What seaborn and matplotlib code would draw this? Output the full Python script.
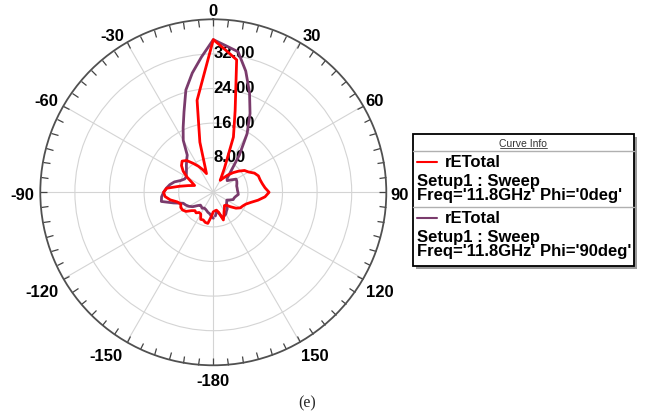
import numpy as np
import pandas as pd
import matplotlib
matplotlib.use("Agg")
import matplotlib.pyplot as plt
from matplotlib.patches import Rectangle
from matplotlib.lines import Line2D
import seaborn as sns

# theta samples (deg), 5 deg step, -180 .. 175
theta_deg = list(range(-180, 180, 5))

# rETotal, Phi = 0deg (red)
r_phi0 = [4.5, 5.7, 7.3, 7.2, 6.8, 6.9, 5.8, 5.7, 6.2, 6.0,
          6.6, 7.7, 8.2, 8.3, 8.0, 8.6, 10.1, 11.2, 11.5, 10.8,
          8.0, 6.0, 4.6, 5.5, 7.0, 8.5, 9.6, 10.2, 9.6, 8.2,
          7.0, 5.8, 4.6, 12.0, 21.6, 26.7, 35.3, 33.0, 31.1, 19.5,
          13.6, 6.0, 3.2, 4.0, 5.2, 6.4, 7.6, 8.8, 9.4, 10.5,
          11.1, 11.2, 11.5, 12.0, 12.9, 12.0, 10.5, 9.0, 8.0, 7.5,
          7.2, 6.4, 5.2, 4.2, 4.0, 4.5, 5.0, 5.8, 6.8, 4.8,
          4.2, 4.3]

# rETotal, Phi = 90deg (purple)
r_phi90 = [6.0, 5.5, 5.0, 4.8, 4.5, 4.3, 4.2, 4.5, 4.3, 4.2,
           4.8, 5.8, 6.5, 7.0, 7.4, 9.5, 12.2, 12.0, 11.5, 10.9,
           10.2, 9.3, 8.0, 7.3, 7.2, 7.6, 8.1, 8.8, 9.6, 10.5,
           13.9, 16.5, 19.8, 24.5, 28.0, 31.4, 35.3, 34.0, 33.0, 29.0,
           24.5, 20.1, 15.6, 10.5, 6.3, 4.5, 4.2, 5.0, 6.1, 6.0,
           5.8, 5.6, 5.6, 5.6, 5.7, 5.8, 5.3, 5.0, 4.9, 4.2,
           3.6, 3.8, 4.0, 4.5, 5.0, 5.3, 5.8, 6.0, 6.3, 5.0,
           4.5, 5.5]

angle_ticks = [0, 30, 60, 90, 120, 150, 180, 210, 240, 270, 300, 330]
angle_labels = ["0", "30", "60", "90", "120", "150", "-180", "-150", "-120", "-90", "-60", "-30"]
r_ticks = [8, 16, 24, 32]
r_labels = ["8.00", "16.00", "24.00", "32.00"]

# where the angle labels sit (pixels from the top-left corner)
label_xy = [(213.3, 11), (311.7, 36.7), (375, 101), (400, 196), (380, 292.7), (315, 356.7),
            (212.7, 381), (106, 356.7), (41.7, 292.7), (22.7, 196), (46.7, 101), (112.7, 36.7)]

sns.set_theme(style="white")
plt.rcParams["font.family"] = ["Liberation Sans", "DejaVu Sans"]
bold = dict(fontsize=12, fontweight="bold", color="black")

W, H = 646, 419
fig = plt.figure(figsize=(W / 100, H / 100), dpi=100)
cx, cy, R = 213.3, 192.3, 173
ax = fig.add_axes([(cx - R) / W, (H - cy - R) / H, 2 * R / W, 2 * R / H], projection="polar")
ax.set_theta_zero_location("N")
ax.set_theta_direction(-1)
ax.set_ylim(0, 40)

ax.set_thetagrids(angle_ticks, [""] * len(angle_ticks))
ax.set_xticks(np.deg2rad(np.arange(0, 360, 5)), minor=True)
ax.tick_params(axis="x", which="both", bottom=False, top=True, direction="in",
               length=5, width=0.9, color="#444444")
ax.set_rgrids(r_ticks, [""] * len(r_ticks))
ax.grid(True, color="#d4d4d4", linewidth=0.8)
ax.spines["polar"].set_color("#505050")
ax.spines["polar"].set_linewidth(1.3)

for r, lab in zip(r_ticks, r_labels):
    ax.text(0, r, lab, ha="left", va="center", zorder=1, **bold)

curves = [("Phi='0deg'", r_phi0, "#ff0000"), ("Phi='90deg'", r_phi90, "#7a3b6c")]
for name, rv, col in curves[::-1]:
    df = pd.DataFrame({"theta": np.deg2rad(theta_deg + [theta_deg[0]]),
                       "r": rv + [rv[0]]})
    sns.lineplot(data=df, x="theta", y="r", sort=False, color=col, linewidth=2.0,
                 ax=ax, zorder=3)
ax.set_xlabel("")
ax.set_ylabel("")


def fx(x):
    return x / W


def fy(y):
    return 1 - y / H


for lab, (lx, ly) in zip(angle_labels, label_xy):
    fig.text(fx(lx), fy(ly), lab, ha="center", va="center", **bold)

# Curve Info box
bx0, by0, bx1, by1 = 412.5, 134, 634, 266
fig.patches.append(Rectangle((fx(bx0 + 3), fy(by1 + 3)), fx(bx1 - bx0), (by1 - by0) / H,
                             transform=fig.transFigure, facecolor="#9a9a9a", edgecolor="none", zorder=1))
fig.patches.append(Rectangle((fx(bx0), fy(by1)), fx(bx1 - bx0), (by1 - by0) / H,
                             transform=fig.transFigure, facecolor="white", edgecolor="black",
                             linewidth=1.3, zorder=2))
fig.text(fx((bx0 + bx1) / 2), fy(143.5), "Curve Info", ha="center", va="center",
         fontsize=7.5, color="#333333", zorder=3)
fig.lines.append(Line2D([fx(499.5), fx(547)], [fy(148), fy(148)], transform=fig.transFigure,
                        color="#333333", linewidth=0.6, zorder=3))
for ysep in (151, 207.5):
    fig.lines.append(Line2D([fx(bx0), fx(bx1)], [fy(ysep), fy(ysep)], transform=fig.transFigure,
                            color="#b0b0b0", linewidth=1.0, zorder=3))

entry_y = [162.5, 218.5]
for (name, rv, col), y0 in zip(curves, entry_y):
    fig.lines.append(Line2D([fx(416.5), fx(437)], [fy(y0), fy(y0)], transform=fig.transFigure,
                            color=col, linewidth=1.5, zorder=3))
    fig.text(fx(445), fy(y0), "rETotal", ha="left", va="center", zorder=3, **bold)
    fig.text(fx(417), fy(y0 + 18.5), "Setup1 : Sweep", ha="left", va="center", zorder=3, **bold)
    fig.text(fx(417), fy(y0 + 33), "Freq='11.8GHz' " + name, ha="left", va="center",
             zorder=3, **bold)

fig.text(fx(307), fy(403), "(e)", ha="center", va="center", fontsize=11.5,
         family="Liberation Serif")

fig.savefig("out.png", dpi=100)
